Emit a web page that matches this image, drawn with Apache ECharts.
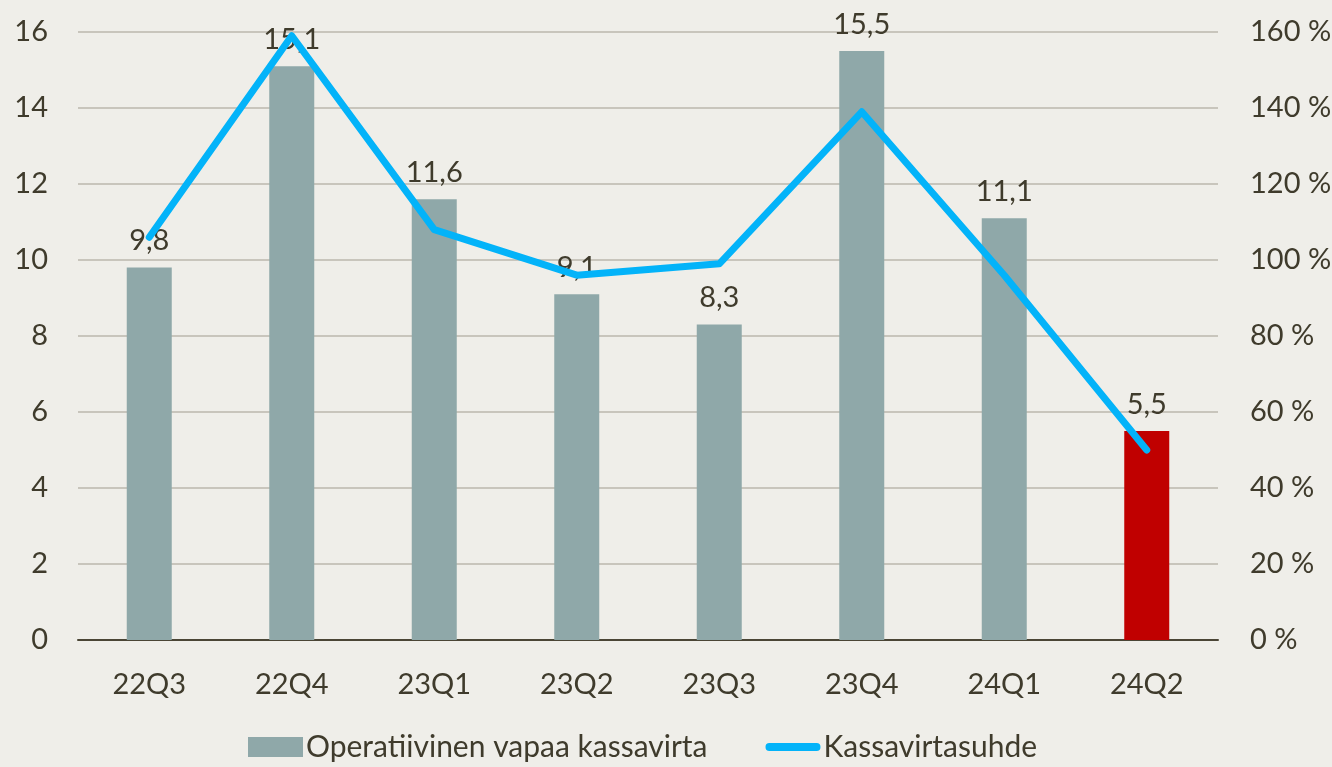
<!DOCTYPE html>
<html>
<head>
<meta charset="utf-8">
<script src="https://cdn.jsdelivr.net/npm/echarts@6/dist/echarts.min.js"></script>
<style>
  html, body { margin: 0; padding: 0; background: #efeee9; }
  #chart { width: 1332px; height: 767px; }
</style>
</head>
<body>
<div id="chart"></div>
<script>
var quarters = ['22Q3', '22Q4', '23Q1', '23Q2', '23Q3', '23Q4', '24Q1', '24Q2'];
// Operatiivinen vapaa kassavirta
var cashFlow = [9.8, 15.1, 11.6, 9.1, 8.3, 15.5, 11.1, 5.5];
// Kassavirtasuhde, %
var cashRatio = [106, 159, 108, 96, 99, 139, 96, 50];

var font = 'Lato, sans-serif';
var textColor = '#3f3b2c';

var chart = echarts.init(document.getElementById('chart'));
chart.setOption({
  backgroundColor: '#efeee9',
  animation: false,
  textStyle: { fontFamily: font, color: textColor },
  grid: { left: 78, right: 114, top: 32, bottom: 127, outerBoundsMode: 'none' },
  legend: {
    bottom: 0,
    left: 243,
    itemGap: 58,
    itemWidth: 55,
    itemHeight: 20,
    textStyle: { fontFamily: font, fontSize: 30, color: textColor, padding: [0, 0, 0, -2] },
    data: [
      { name: 'Operatiivinen vapaa kassavirta', icon: 'rect' },
      { name: 'Kassavirtasuhde', icon: 'path://M0,5 L60,5 A5,5 0 0 1 60,15 L0,15 A5,5 0 0 1 0,5 Z' }
    ]
  },
  xAxis: {
    type: 'category',
    data: quarters,
    axisLine: { lineStyle: { color: '#4a4535', width: 2 } },
    axisTick: { show: false },
    axisLabel: { fontFamily: font, fontSize: 29, color: textColor, margin: 30 }
  },
  yAxis: [{
    type: 'value',
    min: 0, max: 16, interval: 2,
    axisLine: { show: false },
    axisTick: { show: false },
    splitLine: { lineStyle: { color: '#c8c5bc', width: 2 } },
    axisLabel: { fontFamily: font, fontSize: 29, color: textColor, margin: 30 }
  }, {
    type: 'value',
    min: 0, max: 160, interval: 20,
    axisLine: { show: false },
    axisTick: { show: false },
    splitLine: { show: false },
    axisLabel: {
      fontFamily: font, fontSize: 29, color: textColor, margin: 32,
      formatter: '{value} %'
    }
  }],
  series: [{
    name: 'Operatiivinen vapaa kassavirta',
    type: 'bar',
    barWidth: 45,
    itemStyle: { color: '#8fa8a9' },
    data: cashFlow.map(function (v, i) {
      return i === cashFlow.length - 1 ? { value: v, itemStyle: { color: '#c00000' } } : v;
    }),
    label: {
      show: true,
      position: 'top',
      distance: 12,
      fontFamily: font,
      fontSize: 29,
      color: textColor,
      formatter: function (p) { return String(p.value).replace('.', ','); }
    },
    z: 2
  }, {
    name: 'Kassavirtasuhde',
    type: 'line',
    yAxisIndex: 1,
    data: cashRatio,
    symbol: 'none',
    lineStyle: { color: '#03b3f9', width: 7, cap: 'round', join: 'round' },
    itemStyle: { color: '#03b3f9' },
    z: 3
  }]
});
</script>
</body>
</html>
